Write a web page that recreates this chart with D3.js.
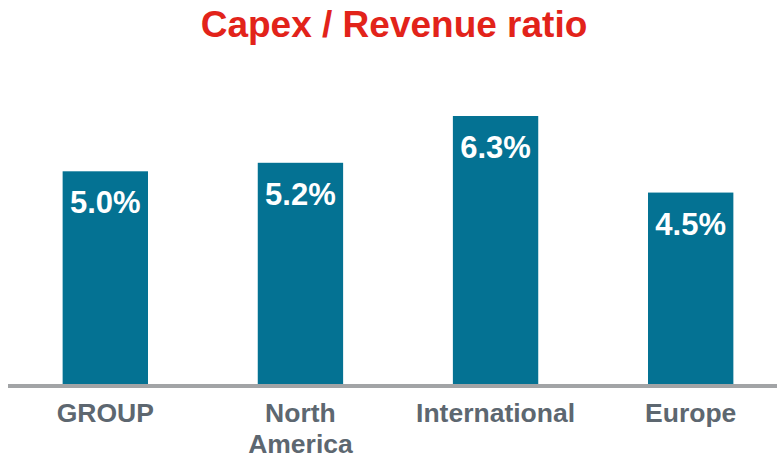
<!DOCTYPE html>
<html>
<head>
<meta charset="utf-8">
<script src="https://cdn.jsdelivr.net/npm/d3@7"></script>
<style>
  html, body { margin: 0; padding: 0; background: #fff; }
  svg { display: block; font-family: Arial, "Liberation Sans", sans-serif; }
</style>
</head>
<body>
<div id="chart"></div>
<script>
// chart data
var categories = [['GROUP'], ['North', 'America'], ['International'], ['Europe']];
var ratios = [5.0, 5.2, 6.3, 4.5];
var valueLabels = ['5.0%', '5.2%', '6.3%', '4.5%'];

var W = 777, H = 459;
var baseY = 384;

var svg = d3.select('#chart').append('svg')
  .attr('width', W).attr('height', H);

// title
svg.append('text')
  .attr('x', 394).attr('y', 37)
  .attr('text-anchor', 'middle')
  .attr('font-size', 37).attr('font-weight', 'bold')
  .attr('fill', '#e2231a')
  .text('Capex / Revenue ratio');

var x = d3.scaleBand()
  .domain(d3.range(ratios.length))
  .range([8, 788])
  .paddingInner(0.5625)
  .paddingOuter(0.28);

var y = d3.scaleLinear().domain([0, 6.3]).range([baseY, 116]);

var bars = svg.append('g').selectAll('g').data(ratios).join('g');

bars.append('rect')
  .attr('x', function(d, i) { return x(i); })
  .attr('y', function(d) { return y(d); })
  .attr('width', x.bandwidth())
  .attr('height', function(d) { return baseY - y(d); })
  .attr('fill', '#047293');

bars.append('text')
  .attr('x', function(d, i) { return x(i) + x.bandwidth() / 2; })
  .attr('y', function(d) { return y(d) + 42; })
  .attr('text-anchor', 'middle')
  .attr('font-size', 31).attr('font-weight', 'bold')
  .attr('fill', '#fff')
  .text(function(d, i) { return valueLabels[i]; });

// baseline
svg.append('line')
  .attr('x1', 8).attr('x2', W)
  .attr('y1', baseY + 2).attr('y2', baseY + 2)
  .attr('stroke', '#a2a4a6').attr('stroke-width', 4);

// category labels
var labels = svg.append('g').selectAll('text').data(categories).join('text')
  .attr('x', function(d, i) { return x(i) + x.bandwidth() / 2; })
  .attr('y', 422)
  .attr('text-anchor', 'middle')
  .attr('font-size', 26.5).attr('font-weight', 'bold')
  .attr('fill', '#5d6770');

labels.selectAll('tspan').data(function(d) { return d; }).join('tspan')
  .attr('x', function() { return this.parentNode.getAttribute('x'); })
  .attr('dy', function(d, i) { return i === 0 ? 0 : 31; })
  .text(function(d) { return d; });
</script>
</body>
</html>
